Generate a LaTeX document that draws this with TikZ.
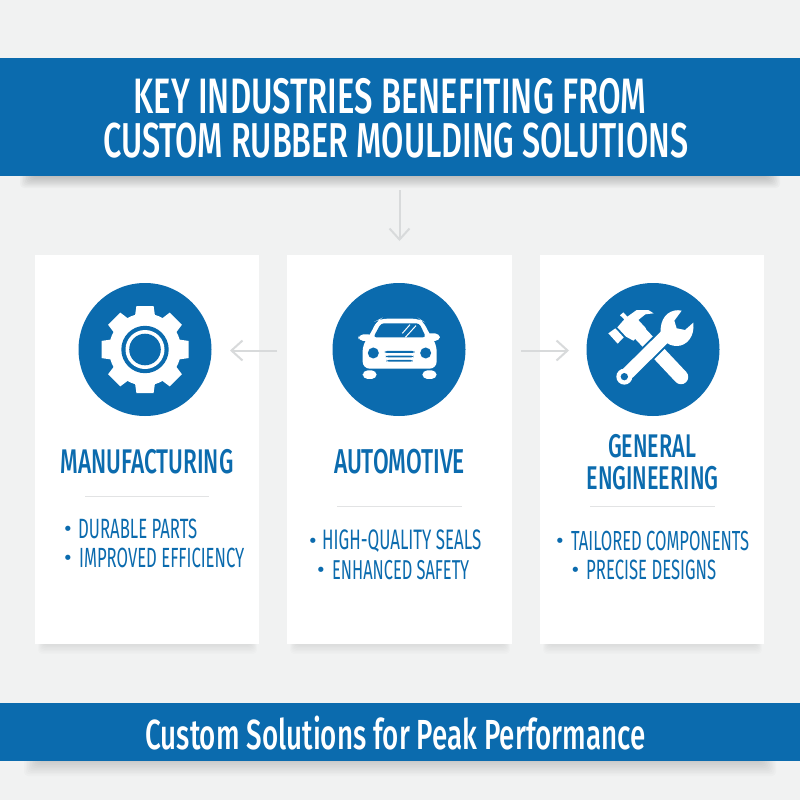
\documentclass[tikz,border=0pt]{standalone}
\usepackage{fontspec}
\usetikzlibrary{arrows.meta}
\setmainfont{Fira Sans}
\newfontfamily\cond[FakeStretch=0.66]{Fira Sans Medium}
\newfontfamily\condr[FakeStretch=0.6]{Fira Sans}
\newfontfamily\dotfont{DejaVu Sans}
\definecolor{brandblue}{HTML}{0B6BAE}
\definecolor{pagebg}{HTML}{F1F2F2}
\definecolor{rulegrey}{HTML}{E2E3E4}
\definecolor{arrowgrey}{HTML}{D8DADB}
\tikzset{
  banner/.style={fill=brandblue,draw=none},
  cardbox/.style={fill=white,draw=none},
  disc/.style={fill=brandblue,draw=none},
  icon/.style={fill=white,draw=none},
  flowarrow/.style={draw=arrowgrey,line width=2pt,-{Straight Barb[length=11pt,width=20pt,line width=2pt]}},
  sepline/.style={draw=rulegrey,line width=1.8pt},
  titletext/.style={text=white,inner sep=0pt,font=\cond},
  headtext/.style={text=brandblue,inner sep=0pt,font=\cond},
  itemtext/.style={text=brandblue,inner sep=0pt,anchor=west,font=\condr},
  dotmark/.style={text=brandblue,inner sep=0pt,anchor=base,font=\dotfont\fontsize{18}{18}\selectfont},
}
% fit one printed line to its measured width
\newcommand{\fitline}[2]{\resizebox{#1pt}{!}{#2}}
% soft shadow: stacked translucent shapes narrowing as they go down
% args: left, top, right, bottom, opacity per layer, x inset per layer
\newcommand{\softshadow}[6]{%
  \foreach \s in {0,1,...,11}{
    \fill[black,opacity=#5,rounded corners=4pt]
      ({#1+\s*#6},{#2}) rectangle ({#3-\s*#6},{#4-\s*(#4-#2-2)/12});
  }}
\begin{document}
\begin{tikzpicture}[x=1pt,y=-1pt]
\useasboundingbox (0,0) rectangle (800,800);
\fill[pagebg] (0,0) rectangle (800,800);
% shadows
\softshadow{20}{170}{780}{188}{0.024}{1.5}
\softshadow{24}{755}{776}{776}{0.016}{1.5}
\softshadow{38}{635}{257}{654}{0.012}{0.8}
\softshadow{290}{635}{510}{654}{0.012}{0.8}
\softshadow{543}{635}{762}{654}{0.012}{0.8}
% banners
\fill[banner] (0,58) rectangle (800,176);
\fill[banner] (0,703) rectangle (800,761);
\node[titletext] (t1) at (390,96.5) {\fitline{512}{KEY INDUSTRIES BENEFITING FROM}};
\node[titletext] (t2) at (396,141) {\fitline{585}{CUSTOM RUBBER MOULDING SOLUTIONS}};
\node[titletext] (foot) at (395.5,733) {\fitline{500}{Custom Solutions for Peak Performance}};
% cards
\node[cardbox,minimum width=224pt,minimum height=389pt,inner sep=0pt] (c1) at (147,449.5) {};
\node[cardbox,minimum width=225pt,minimum height=389pt,inner sep=0pt] (c2) at (399.5,449.5) {};
\node[cardbox,minimum width=224pt,minimum height=389pt,inner sep=0pt] (c3) at (652,449.5) {};
% connectors
\coordinate (a0) at (399.5,190);
\coordinate (a1) at (399.5,241);
\coordinate (l0) at (277,350.5);
\coordinate (l1) at (230,350.5);
\coordinate (r0) at (521,350.5);
\coordinate (r1) at (569,350.5);
\draw[flowarrow] (a0) -- (a1);
\draw[flowarrow] (l0) -- (l1);
\draw[flowarrow] (r0) -- (r1);
% discs
\node[disc,circle,minimum size=133pt,inner sep=0pt] (d1) at (145,349.5) {};
\node[disc,circle,minimum size=133pt,inner sep=0pt] (d2) at (399,349.5) {};
\node[disc,circle,minimum size=133pt,inner sep=0pt] (d3) at (653,349.5) {};
% gear
\begin{scope}[shift={(d1.center)}]
  \fill[icon] (0,0) circle (36);
  \foreach \a in {0,45,...,315}{
    \fill[icon,rotate=\a] (-10.5,-30) -- (-8.6,-43.5) -- (8.6,-43.5) -- (10.5,-30) -- cycle;
  }
  \fill[disc] (0,0) circle (23.7);
  \fill[icon] (0,0) circle (19.5);
  \fill[disc] (0,0) circle (15.8);
\end{scope}
% car
\begin{scope}[shift={(320,280)},x=0.3333pt,y=-0.3333pt]
  \fill[icon,rounded corners=5pt] (115,163) rectangle (160,183);
  \fill[icon,rounded corners=5pt] (315,160) rectangle (360,183);
  \fill[icon,rounded corners=7pt] (128,266) -- (128,192) -- (150,165) -- (170,122) -- (182,116) -- (298,116) -- (310,124) -- (330,165) -- (350,192) -- (350,266) -- cycle;
  \fill[icon,rounded corners=5pt] (128,271) rectangle (170,297);
  \fill[icon,rounded corners=5pt] (307,271) rectangle (350,297);
  \fill[disc,rounded corners=3pt] (160,172) -- (183,130) -- (298,130) -- (318,172) -- cycle;
  \draw[draw=white,line width=1pt] (247,160) -- (270,134);
  \draw[draw=white,line width=1pt] (256,172) -- (288,137);
  \fill[disc] (160,219) circle (16.5);
  \fill[disc] (317,219) circle (16.5);
  \fill[disc,rounded corners=2pt] (195,213) rectangle (283,219);
  \fill[disc,rounded corners=2pt] (198,227) rectangle (280,232);
  \fill[disc,rounded corners=2pt] (200,240) rectangle (278,245);
\end{scope}
% tools
\begin{scope}[shift={(570,280)},x=0.3333pt,y=-0.3333pt]
  \draw[white,line width=14.5pt,line cap=round] (205,155) -- (333,291);
  \fill[icon] (115,160) -- (136,145) -- (161,172) -- (143,191) -- cycle;
  \fill[icon] (142,142) -- (163,118) -- (150,106) -- (160,97) -- (172,110) -- (200,90) -- (235,90) -- (251,100) -- (226,103) -- (205,120) -- (228,145) -- (190,182) -- (168,170) -- cycle;
  \draw[brandblue,line width=17pt] (163,290) -- (305,150);
  \draw[white,line width=13pt] (163,290) -- (305,150);
  \fill[icon] (163,290) circle (24);
  \fill[disc] (163,290) circle (11);
  \fill[icon] (335,92)
    .. controls (305,85) and (275,105) .. (272,145)
    .. controls (270,175) and (290,198) .. (320,198)
    .. controls (350,198) and (375,170) .. (370,128)
    -- (345,150) -- (320,145) -- (313,122) -- cycle;
\end{scope}
% card text
\node[headtext] (h1) at (147,462) {\fitline{173}{MANUFACTURING}};
\node[headtext] (h2) at (399.5,462) {\fitline{131}{AUTOMOTIVE}};
\node[headtext] (h3a) at (652,446) {\fitline{88}{GENERAL}};
\node[headtext] (h3b) at (652.5,478) {\fitline{132}{ENGINEERING}};
\draw[sepline] (85,496.5) -- (209,496.5);
\draw[sepline] (337,506.5) -- (462,506.5);
\draw[sepline] (590,506.5) -- (715,506.5);
\node[dotmark] (b1a) at (68,535) {•};
\node[itemtext] (i1a) at (78,529) {\fitline{119}{DURABLE PARTS}};
\node[dotmark] (b1b) at (68,564) {•};
\node[itemtext] (i1b) at (79,557.5) {\fitline{165}{IMPROVED EFFICIENCY}};
\node[dotmark] (b2a) at (313,547.5) {•};
\node[itemtext] (i2a) at (322,541) {\fitline{159}{HIGH-QUALITY SEALS}};
\node[dotmark] (b2b) at (321,576) {•};
\node[itemtext] (i2b) at (332,570) {\fitline{137}{ENHANCED SAFETY}};
\node[dotmark] (b3a) at (560,547.5) {•};
\node[itemtext] (i3a) at (571,541) {\fitline{178}{TAILORED COMPONENTS}};
\node[dotmark] (b3b) at (575.5,576) {•};
\node[itemtext] (i3b) at (586,570) {\fitline{130}{PRECISE DESIGNS}};
\end{tikzpicture}
\end{document}
